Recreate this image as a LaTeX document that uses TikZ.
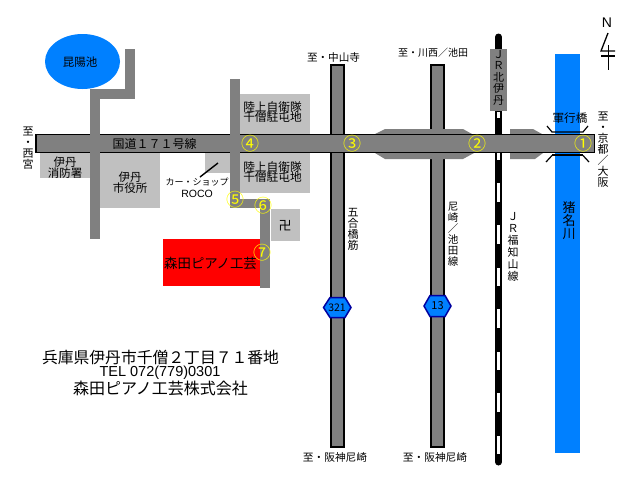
\documentclass[tikz,border=0pt]{standalone}
\usepackage{fontspec}
\setmainfont{Noto Sans CJK JP}
\newfontfamily\jpfw[RawFeature=+fwid]{Noto Sans CJK JP}
\newfontfamily\lat{Liberation Sans}
\newcommand{\fsz}[2]{\fontsize{#1}{#2}\selectfont}
\normallineskiplimit=-100pt
\lineskiplimit=-100pt
\definecolor{roadgray}{HTML}{808080}
\definecolor{lotgray}{HTML}{C0C0C0}
\definecolor{waterblue}{HTML}{0080FF}
\definecolor{hexblue}{HTML}{0000A0}
\definecolor{marknum}{HTML}{FFFF00}
\tikzset{
  lbl/.style={inner sep=0pt,outer sep=0pt,align=center,text=black},
  road/.style={fill=roadgray,draw=none},
  lot/.style={fill=lotgray,draw=none},
  edged/.style={fill=roadgray,draw=black,line width=1.5pt},
  num/.style={inner sep=0pt,outer sep=0pt,text=marknum,font=\fsz{18}{18}},
  hexa/.style={fill=waterblue,draw=hexblue,line width=1.5pt},
  inkline/.style={draw=black,line width=1.3pt},
}
\begin{document}
\begin{tikzpicture}[x=1pt,y=-1pt]
\useasboundingbox (0,0) rectangle (640,480);
\fill[white] (0,0) rectangle (640,480);
% pond
\fill[waterblue] (82.5,61.5) ellipse [x radius=37.5pt,y radius=27.5pt];
% lots
\fill[lot] (240,94) rectangle (310,134);
\fill[lot] (240,153) rectangle (310,193);
\fill[lot] (40,153) rectangle (90,178);
\fill[lot] (100,153) rectangle (160,208);
\fill[lot] (205,153) rectangle (230,173);
\fill[lot] (271,209) rectangle (300,241);
% workshop
\fill[red] (163,239) rectangle (260,286);
% river
\fill[waterblue] (555,54) rectangle (580,453);
% railway
\draw[black,line width=7pt,line cap=round] (498.5,37) -- (498.5,462);
\foreach \a/\b in {112/118,141/160,183/202,225/244,268/286,309/328,352/370,393/412,436/454}
  \fill[white] (497,\a) rectangle (500,\b);
\fill[roadgray] (490,49) rectangle (507,111);
% vertical roads
\path[edged] (331,65) rectangle (344,447);
\path[edged] (431,65) rectangle (444,447);
% widenings
\fill[roadgray] (375,134) -- (385,129) -- (463,129) -- (472,134) -- (474,153) -- (463,159) -- (385,159) -- (375,153) -- cycle;
\fill[roadgray] (510,129) -- (533,129) -- (542,134) -- (543,153) -- (535,159) -- (510,159) -- cycle;
% national road
\path[fill=roadgray,draw=black,line width=1.2pt] (36,134.5) rectangle (594.5,152.5);
% side roads
\fill[road] (90,89) rectangle (100,239);
\fill[road] (90,89) rectangle (135,99);
\fill[road] (125,49) rectangle (135,99);
\fill[road] (230,79) rectangle (240,208);
\fill[road] (230,199) rectangle (270,208);
\fill[road] (260,199) rectangle (270,288);
% hexagons
\path[hexa] (323.5,307.5) -- (330,297.5) -- (345,297.5) -- (351,307.5) -- (345,317.5) -- (330,317.5) -- cycle;
\path[hexa] (424,306) -- (430,295.5) -- (445,295.5) -- (451,306) -- (445,316.5) -- (430,316.5) -- cycle;
% bridge
\draw[black,line width=1.2pt] (547,126) -- (552,132) -- (583,132) -- (588,126);
\draw[black,line width=2.2pt] (552,155) -- (583,155);
\draw[black,line width=1.2pt] (546,162) -- (552,155.5);
\draw[black,line width=1.2pt] (583,155.5) -- (589,162);
% north arrow
\draw[inkline] (608,33) -- (601,51) -- (615,51);
\draw[inkline] (601,56) -- (615,56);
\draw[inkline] (608.5,45) -- (608.5,70);
% leader
\coordinate (ldA) at (218,163);
\coordinate (ldB) at (200,177);
\draw[black,line width=1.4pt] (ldA) -- (ldB);
% labels
\node[lbl,font=\fsz{11.5}{11.5}] (pond) at (80,62) {昆陽池};
\node[lbl,font=\jpfw\fsz{12}{12}] (nat) at (154.5,144) {国道171号線};
\node[lbl,font=\fsz{11}{11}] (west) at (28,148) {至\\・\\西\\宮};
\node[lbl,font=\fsz{11.5}{11}] (fire) at (65,167.5) {伊丹\\消防署};
\node[lbl,font=\fsz{11.5}{11}] (city) at (130,182.5) {伊丹\\市役所};
\node[lbl,font=\fsz{9}{11}] (shop) at (197,182) {カー・ショップ};
\node[lbl,font=\lat\fsz{10.5}{11}] (roco) at (197,193.5) {ROCO};
\node[lbl,font=\fsz{11.7}{10.5}] (gsdfA) at (272.5,112) {陸上自衛隊\\千僧駐屯地};
\node[lbl,font=\fsz{11.7}{10.5}] (gsdfB) at (272.5,172) {陸上自衛隊\\千僧駐屯地};
\node[lbl,font=\fsz{13}{13}] (tera) at (285,226) {卍};
\node[lbl,font=\fsz{13.4}{14}] (morita) at (210.5,263) {森田ピアノ工芸};
\node[lbl,font=\fsz{10.6}{11}] (nakayama) at (333.5,57) {至・中山寺};
\node[lbl,font=\fsz{10}{11}] (kawanishi) at (433,53) {至・川西／池田};
\node[lbl,font=\fsz{10.7}{11}] (amaA) at (335,457) {至・阪神尼崎};
\node[lbl,font=\fsz{10.7}{11}] (amaB) at (435,457) {至・阪神尼崎};
\node[lbl,font=\fsz{11}{11}] (goko) at (353,229) {五\\合\\橋\\筋};
\node[lbl,font=\fsz{10.5}{11}] (ikeda) at (453,234.5) {尼\\崎\\／\\池\\田\\線};
\node[lbl,font=\jpfw\fsz{11}{12}] (fuku) at (513,247) {J\\R\\福\\知\\山\\線};
\node[lbl,font=\jpfw\fsz{11}{11.5}] (kita) at (498.5,77.5) {J\\R\\北\\伊\\丹};
\node[lbl,font=\fsz{11.6}{12}] (gunko) at (570,118) {軍行橋};
\node[lbl,font=\fsz{11}{11}] (east) at (603,149.5) {至\\・\\京\\都\\／\\大\\阪};
\node[lbl,font=\fsz{13}{13}] (ina) at (569,221) {猪\\名\\川};
\node[lbl,font=\fsz{10.5}{11}] (r321) at (337,307.5) {321};
\node[lbl,font=\fsz{11}{11}] (r13) at (437.5,306) {13};
\node[num] (n1) at (583,144) {①};
\node[num] (n2) at (477,144) {②};
\node[num] (n3) at (352,143.5) {③};
\node[num] (n4) at (250,143.5) {④};
\node[num] (n5) at (235.5,200) {⑤};
\node[num] (n6) at (263.5,206) {⑥};
\node[num] (n7) at (262,253) {⑦};
\node[lbl,font=\jpfw\fsz{15.8}{16}] (addr) at (160.5,357) {兵庫県伊丹市千僧2丁目71番地};
\node[lbl,font=\lat\fsz{14.5}{16}] (tel) at (160,372.5) {TEL 072(779)0301};
\node[lbl,font=\fsz{16}{16}] (co) at (160.5,388) {森田ピアノ工芸株式会社};
\node[lbl,font=\lat\fsz{14}{14}] (north) at (607,23) {N};
\end{tikzpicture}
\end{document}
